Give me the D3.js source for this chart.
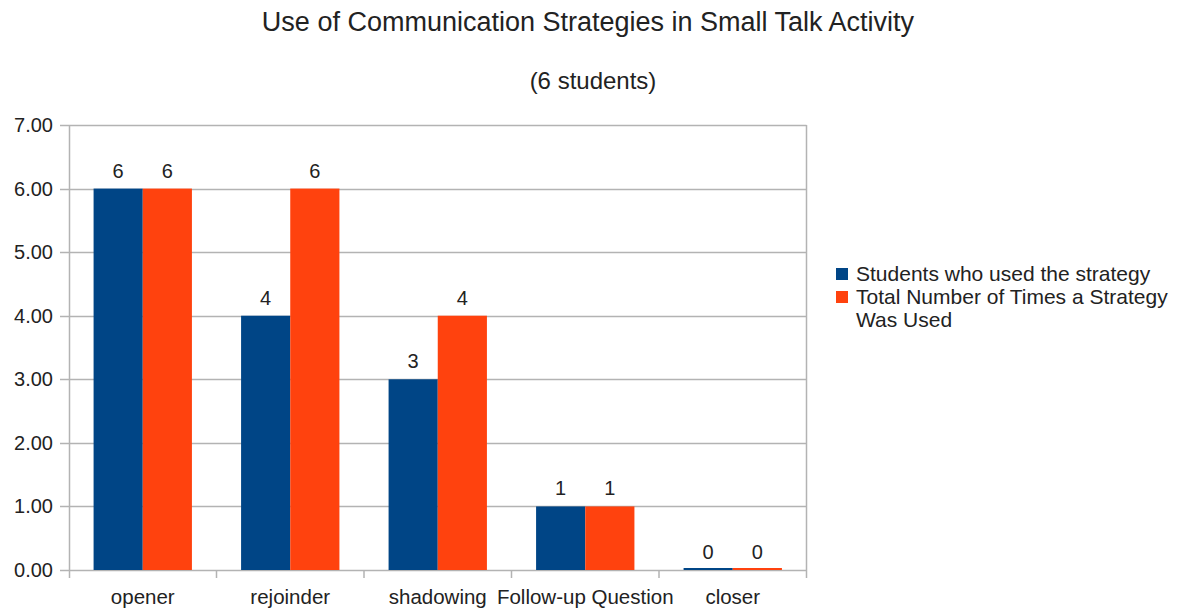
<!DOCTYPE html>
<html><head><meta charset="utf-8">
<script src="https://cdn.jsdelivr.net/npm/d3@7"></script>
<style>body{margin:0;background:#fff}svg{display:block}text{font-family:"Liberation Sans",Arial,sans-serif;fill:#222}</style>
</head><body><svg id="c" width="1181" height="609"></svg>
<script>
const categories = ["opener","rejoinder","shadowing","Follow-up Question","closer"];
const studentsUsed = [6,4,3,1,0];
const totalTimes = [6,6,4,1,0];
const seriesNames = ["Students who used the strategy","Total Number of Times a Strategy Was Used"];
const yTicks = [0,1,2,3,4,5,6,7];
const title = "Use of Communication Strategies in Small Talk Activity";
const subtitle = "(6 students)";

const colors = ["#004586","#ff420e"];
const svg = d3.select("#c");
const L = 69, R = 806.5, T = 125, B = 570;
const x = d3.scaleBand().domain(categories).range([L,R]).paddingInner(0).paddingOuter(0);
const inner = d3.scaleBand().domain([0,1]).range([x.bandwidth()/6, x.bandwidth()*5/6]);
const y = d3.scaleLinear().domain([0,7]).range([B,T]);

svg.append("text").attr("x",588).attr("y",31).attr("text-anchor","middle").style("font-size","27px").text(title);
svg.append("text").attr("x",593).attr("y",89).attr("text-anchor","middle").style("font-size","24px").text(subtitle);

// gridlines
svg.append("g").selectAll("line").data(yTicks).join("line")
  .attr("x1",L-9).attr("x2",R).attr("y1",d=>Math.round(y(d))+0.5).attr("y2",d=>Math.round(y(d))+0.5)
  .attr("stroke","#b3b3b3").attr("stroke-width",1.5);
// y axis
svg.append("line").attr("x1",L+0.5).attr("x2",L+0.5).attr("y1",T).attr("y2",B+8).attr("stroke","#b3b3b3").attr("stroke-width",1.5);
svg.append("line").attr("x1",R).attr("x2",R).attr("y1",T).attr("y2",B+8).attr("stroke","#b3b3b3").attr("stroke-width",1.5);
// x ticks at band boundaries
const bounds = categories.slice(1).map(c=>x(c));
svg.append("g").selectAll("line").data(bounds).join("line")
  .attr("x1",d=>d).attr("x2",d=>d).attr("y1",B).attr("y2",B+8).attr("stroke","#b3b3b3").attr("stroke-width",1.5);

svg.append("g").selectAll("text").data(yTicks).join("text")
  .attr("x",53).attr("y",d=>y(d)+7).attr("text-anchor","end").style("font-size","20px").text(d=>d.toFixed(2));

svg.append("g").selectAll("text").data(categories).join("text")
  .attr("x",d=>x(d)+x.bandwidth()/2).attr("y",604).attr("text-anchor","middle").style("font-size","20.5px").text(d=>d);

const series = [studentsUsed,totalTimes];
series.forEach((vals,si)=>{
  const g = svg.append("g");
  g.selectAll("rect").data(vals).join("rect")
    .attr("x",(d,i)=>x(categories[i])+inner(si))
    .attr("width",inner.bandwidth())
    .attr("y",d=>Math.min(y(d),B-2))
    .attr("height",d=>Math.max(B-y(d),2))
    .attr("fill",colors[si]);
  g.selectAll("text").data(vals).join("text")
    .attr("x",(d,i)=>x(categories[i])+inner(si)+inner.bandwidth()/2)
    .attr("y",d=>y(d)-11).attr("text-anchor","middle").style("font-size","20px").text(d=>d);
});

// legend
const lg = svg.append("g").attr("transform","translate(836,0)");
lg.append("rect").attr("x",0).attr("y",268).attr("width",12).attr("height",12).attr("fill",colors[0]);
lg.append("text").attr("x",20).attr("y",281).style("font-size","21px").text(seriesNames[0]);
lg.append("rect").attr("x",0).attr("y",291).attr("width",12).attr("height",12).attr("fill",colors[1]);
const t2 = lg.append("text").attr("x",20).attr("y",303.5).style("font-size","21px");
t2.append("tspan").attr("x",20).text("Total Number of Times a Strategy");
t2.append("tspan").attr("x",20).attr("dy",23).text("Was Used");
</script></body></html>
